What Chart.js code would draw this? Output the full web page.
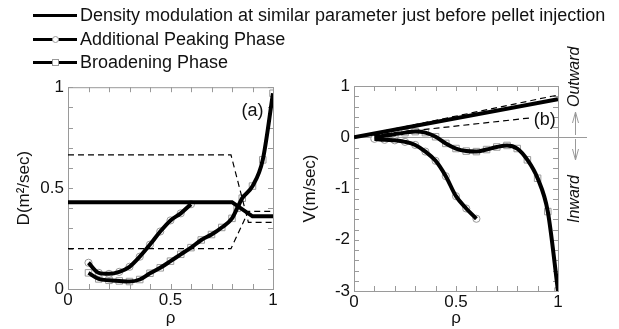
<!DOCTYPE html>
<html>
<head>
<meta charset="UTF-8">
<title>D and V profiles</title>
<script src="https://cdn.jsdelivr.net/npm/chart.js"></script>
<style>
  body { margin: 0; background: #fff; font-family: "Liberation Sans", Arial, sans-serif; }
  #wrap { position: relative; width: 619px; height: 329px; overflow: hidden; }
  canvas { position: absolute; }
  .leg { position: absolute; left: 33px; height: 20px; font-size: 18px; line-height: 20px; color: #111; }
  .leg .ln { position: absolute; left: 0; top: 9px; width: 44px; height: 3px; background: #000; }
  .leg .mk { position: absolute; left: 19px; top: 7px; width: 5px; height: 5px; border: 1px solid #999; background: #fff; }
  .leg .mk.c { border-radius: 50%; }
  .leg span { position: absolute; left: 47px; top: 0; white-space: nowrap; }
</style>
</head>
<body>
<div id="wrap">
  <canvas id="chartD" width="300" height="256" style="left:0;top:73px"></canvas>
  <canvas id="chartV" width="319" height="289" style="left:300px;top:40px"></canvas>
  <div class="leg" style="top:5px"><div class="ln"></div><span>Density modulation at similar parameter just before pellet injection</span></div>
  <div class="leg" style="top:29px"><div class="ln"></div><div class="mk c"></div><span>Additional Peaking Phase</span></div>
  <div class="leg" style="top:52px"><div class="ln"></div><div class="mk"></div><span>Broadening Phase</span></div>
</div>
<script>
// ---- panel (a): D ----
const dDensityX = [0, 0.8, 0.9, 1.0];
const dDensityY = [0.43, 0.43, 0.36, 0.36];
const dDashUpX = [0, 0.795, 0.88, 1.0];
const dDashUpY = [0.665, 0.665, 0.33, 0.33];
const dDashLoX = [0, 0.795, 0.88, 1.0];
const dDashLoY = [0.2, 0.2, 0.385, 0.385];
const dPeakX = [0.1, 0.15, 0.2, 0.25, 0.3, 0.35, 0.4, 0.45, 0.5, 0.55, 0.6];
const dPeakY = [0.13, 0.08, 0.075, 0.085, 0.11, 0.16, 0.22, 0.285, 0.34, 0.375, 0.42];
const dBroadX = [0.1, 0.15, 0.2, 0.25, 0.3, 0.35, 0.4, 0.45, 0.5, 0.55, 0.6, 0.65, 0.7, 0.75, 0.8, 0.825, 0.85, 0.9, 0.95, 1.0];
const dBroadY = [0.08, 0.05, 0.043, 0.04, 0.037, 0.047, 0.078, 0.105, 0.138, 0.172, 0.205, 0.243, 0.27, 0.305, 0.35, 0.40, 0.45, 0.51, 0.64, 0.97];

// ---- panel (b): V ----
const vDensityX = [0, 1.0];
const vDensityY = [0, 0.74];
const vDashUpX = [0, 0.97, 1.0];
const vDashUpY = [0, 0.8, 0.82];
const vDashLoX = [0, 0.87];
const vDashLoY = [0, 0.38];
const vPeakX = [0.1, 0.15, 0.2, 0.25, 0.3, 0.35, 0.4, 0.45, 0.5, 0.55, 0.6];
const vPeakY = [-0.03, -0.05, -0.06, -0.09, -0.15, -0.28, -0.46, -0.76, -1.15, -1.39, -1.59];
const vBroadX = [0.1, 0.15, 0.2, 0.25, 0.3, 0.35, 0.4, 0.45, 0.5, 0.55, 0.6, 0.65, 0.7, 0.75, 0.8, 0.85, 0.9, 0.95, 1.0];
const vBroadY = [0.0, 0.03, 0.06, 0.09, 0.11, 0.09, 0.01, -0.12, -0.22, -0.27, -0.28, -0.24, -0.19, -0.16, -0.22, -0.44, -0.8, -1.45, -3.0];

const xLabels = [0, 0.5, 1];
const dLabels = [0, 0.5, 1];
const vLabels = [1, 0, -1, -2, -3];

const FONT = "'Liberation Sans', Arial, sans-serif";
const pts = (xs, ys) => xs.map((x, i) => ({ x, y: ys[i] }));
const hasLabel = (list, v) => list.some(l => Math.abs(l - v) < 1e-6);

function lineDs(xs, ys, dashed, curved) {
  return {
    data: pts(xs, ys), borderColor: '#000', borderWidth: dashed ? 1.2 : 4,
    borderDash: dashed ? [6, 4] : [], pointRadius: 0, order: 1,
    tension: curved ? 0.4 : 0, cubicInterpolationMode: curved ? 'monotone' : 'default'
  };
}
function markDs(xs, ys, style) {
  return {
    data: pts(xs, ys), showLine: false, pointStyle: style, pointRadius: style === 'rect' ? 4.6 : 3.6,
    pointBorderColor: '#9a9a9a', pointBackgroundColor: '#fff', pointBorderWidth: 1, order: 2
  };
}

const frame = {
  id: 'frame',
  beforeDatasetsDraw(chart) {
    const { ctx, chartArea: a, scales: { x, y } } = chart;
    ctx.save();
    ctx.strokeStyle = '#9a9a9a';
    ctx.lineWidth = 1;
    ctx.strokeRect(a.left + 0.5, a.top + 0.5, a.width, a.height);
    ctx.beginPath();
    x.ticks.forEach(t => {
      const px = Math.round(x.getPixelForValue(t.value)) + 0.5;
      ctx.moveTo(px, a.bottom); ctx.lineTo(px, a.bottom - 5);
      ctx.moveTo(px, a.top); ctx.lineTo(px, a.top + 5);
    });
    y.ticks.forEach(t => {
      const py = Math.round(y.getPixelForValue(t.value)) + 0.5;
      ctx.moveTo(a.left, py); ctx.lineTo(a.left + 5, py);
      ctx.moveTo(a.right, py); ctx.lineTo(a.right - 5, py);
    });
    ctx.stroke();
    const o = chart.options.plugins.frame;
    if (o && o.zeroLine) {
      const py = Math.round(y.getPixelForValue(0)) + 0.5;
      ctx.beginPath();
      ctx.moveTo(a.left, py); ctx.lineTo(a.right + 29, py);
      ctx.stroke();
    }
    ctx.restore();
  },
  afterDraw(chart) {
    const o = chart.options.plugins.frame;
    if (!o) return;
    const { ctx, chartArea: a, scales: { x, y } } = chart;
    ctx.save();
    ctx.fillStyle = '#111';
    ctx.font = '18px ' + FONT;
    ctx.textAlign = 'center';
    ctx.textBaseline = 'middle';
    ctx.fillText(o.tag, x.getPixelForValue(o.tagX), y.getPixelForValue(o.tagY));
    if (o.zeroLine) {
      const cx = a.right + 17, py = Math.round(y.getPixelForValue(0));
      ctx.font = 'italic 16px ' + FONT;
      ctx.textAlign = 'left';
      ctx.save(); ctx.translate(cx, py - 30); ctx.rotate(-Math.PI / 2);
      ctx.fillText('Outward', 0, 0); ctx.restore();
      ctx.save(); ctx.translate(cx, py + 86); ctx.rotate(-Math.PI / 2);
      ctx.fillText('Inward', 0, 0); ctx.restore();
      ctx.strokeStyle = '#9a9a9a'; ctx.lineWidth = 1;
      ctx.beginPath();
      const ax = cx + 0.5;
      ctx.moveTo(ax, py - 25); ctx.lineTo(ax, py - 2);
      ctx.moveTo(ax - 3, py - 14); ctx.lineTo(ax, py - 25); ctx.lineTo(ax + 3, py - 14);
      ctx.moveTo(ax, py + 2); ctx.lineTo(ax, py + 23);
      ctx.moveTo(ax - 3, py + 12); ctx.lineTo(ax, py + 23); ctx.lineTo(ax + 3, py + 12);
      ctx.stroke();
    }
    ctx.restore();
  }
};

function makeChart(id, datasets, yStep, yMin, yMax, yList, yTitle, yTitlePad, yWidth, xHeight, pad, extra) {
  return new Chart(document.getElementById(id), {
    type: 'line',
    data: { datasets },
    options: {
      responsive: false, animation: false,
      layout: { padding: pad },
      plugins: { legend: { display: false }, tooltip: { enabled: false }, frame: extra },
      scales: {
        x: {
          type: 'linear', min: 0, max: 1,
          grid: { display: false, tickLength: 0 }, border: { display: false },
          ticks: {
            stepSize: 0.1, autoSkip: false, maxRotation: 0, padding: 1,
            color: '#111', font: { family: FONT, size: 17 },
            callback: v => hasLabel(xLabels, v) ? String(Math.round(v * 10) / 10) : ''
          },
          title: { display: true, text: 'ρ', color: '#111', font: { family: FONT, size: 17 }, padding: 0 },
          afterFit: s => { s.height = xHeight; }
        },
        y: {
          type: 'linear', min: yMin, max: yMax,
          grid: { display: false, tickLength: 0 }, border: { display: false },
          ticks: {
            stepSize: yStep, autoSkip: false, padding: 4,
            color: '#111', font: { family: FONT, size: 17 },
            callback: v => hasLabel(yList, v) ? String(Math.round(v * 10) / 10) : ''
          },
          title: { display: true, text: yTitle, color: '#111', font: { family: FONT, size: 17 }, padding: yTitlePad },
          afterFit: s => { s.width = yWidth; }
        }
      }
    },
    plugins: [frame]
  });
}

makeChart('chartD', [
  lineDs(dDensityX, dDensityY, false, false),
  lineDs(dDashUpX, dDashUpY, true, false),
  lineDs(dDashLoX, dDashLoY, true, false),
  lineDs(dPeakX, dPeakY, false, true),
  markDs(dPeakX, dPeakY, 'circle'),
  lineDs(dBroadX, dBroadY, false, true),
  markDs(dBroadX, dBroadY, 'rect')
], 0.1, 0, 1, dLabels, 'D(m²/sec)', 14, 68, 40, { left: 0, top: 14, right: 27, bottom: 0 },
  { tag: '(a)', tagX: 0.9, tagY: 0.88 });

makeChart('chartV', [
  lineDs(vDensityX, vDensityY, false, false),
  lineDs(vDashUpX, vDashUpY, true, false),
  lineDs(vDashLoX, vDashLoY, true, false),
  lineDs(vPeakX, vPeakY, false, true),
  markDs(vPeakX, vPeakY, 'circle'),
  lineDs(vBroadX, vBroadY, false, true),
  markDs(vBroadX, vBroadY, 'rect')
], 0.2, -3, 1, vLabels, 'V(m/sec)', 0, 54, 38, { left: 0, top: 46, right: 61, bottom: 0 },
  { tag: '(b)', tagX: 0.935, tagY: 0.33, zeroLine: true });
</script>
</body>
</html>
